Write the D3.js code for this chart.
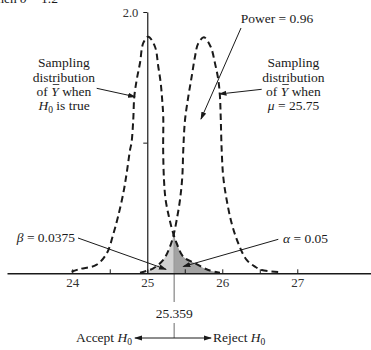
<!DOCTYPE html>
<html>
<head>
<meta charset="utf-8">
<title>Sampling distributions, power</title>
<script src="https://cdn.jsdelivr.net/npm/d3@7"></script>
<style>
  body { margin: 0; background: #fff; }
  svg text { font-family: "Liberation Serif", "DejaVu Serif", serif; font-size: 13.5px; fill: #1a1a1a; }
</style>
</head>
<body>
<svg id="chart" width="371" height="350"></svg>
<script>
// sampling distribution of Ybar when H0 is true (mu = 25)
const h0Curve = [
  [23.99, 0.012], [24.10, 0.033], [24.32, 0.064], [24.46, 0.153], [24.55, 0.306],
  [24.61, 0.433], [24.68, 0.612], [24.725, 0.765], [24.77, 0.944], [24.79, 1.0],
  [24.813, 1.173], [24.827, 1.352], [24.859, 1.48], [24.903, 1.61], [24.947, 1.763],
  [25.013, 1.811], [25.103, 1.734], [25.147, 1.581], [25.179, 1.457], [25.20, 1.319],
  [25.213, 1.199], [25.212, 0.944], [25.223, 0.714], [25.245, 0.561], [25.289, 0.433],
  [25.333, 0.331], [25.392, 0.230], [25.48, 0.127], [25.636, 0.077], [25.813, 0.025],
  [25.969, 0.005]
];
// sampling distribution of Ybar when mu = 25.75
const h1Curve = [
  [24.903, 0.005], [25.08, 0.038], [25.213, 0.102], [25.303, 0.204], [25.356, 0.306],
  [25.392, 0.408], [25.436, 0.561], [25.467, 0.739], [25.48, 0.944], [25.503, 1.173],
  [25.547, 1.352], [25.592, 1.505], [25.636, 1.658], [25.68, 1.76], [25.756, 1.806],
  [25.845, 1.734], [25.903, 1.607], [25.947, 1.48], [25.969, 1.352], [25.979, 1.199],
  [25.992, 0.944], [26.013, 0.739], [26.059, 0.561], [26.125, 0.383], [26.213, 0.23],
  [26.325, 0.102], [26.436, 0.051], [26.525, 0.025], [26.792, 0.008]
];
const critical = 25.359;
const majorTicks = [24, 25, 26, 27];
const minorTicks = [24.5, 25.5, 26.5];
const yTicks = [1, 2];

const svg = d3.select("#chart");

const x = d3.scaleLinear().domain([23.13, 28]).range([7, 372.3]);
const y = d3.scaleLinear().domain([0, 2]).range([273.3, 12]);

// arrow heads
const defs = svg.append("defs");
defs.append("marker")
    .attr("id", "head")
    .attr("viewBox", "0 -3 8 6")
    .attr("refX", 7).attr("refY", 0)
    .attr("markerWidth", 8).attr("markerHeight", 6)
    .attr("markerUnits", "userSpaceOnUse")
    .attr("orient", "auto-start-reverse")
  .append("path")
    .attr("d", "M0,-2.6L8,0L0,2.6Z")
    .attr("fill", "#1a1a1a");

defs.append("clipPath").attr("id", "betaClip")
  .append("rect")
    .attr("x", x(25)).attr("y", 0)
    .attr("width", x(critical) - x(25)).attr("height", 350);
defs.append("clipPath").attr("id", "alphaClip")
  .append("rect")
    .attr("x", x(critical)).attr("y", 0)
    .attr("width", x(27) - x(critical)).attr("height", 350);

const curve = d3.curveCatmullRom.alpha(0.5);
const line = d3.line().x(d => x(d[0])).y(d => y(d[1])).curve(curve);
const area = d3.area().x(d => x(d[0])).y0(y(0)).y1(d => y(d[1])).curve(curve);

// shaded tails
svg.append("path").datum(h1Curve)
    .attr("d", area).attr("fill", "#d2d2d2").attr("clip-path", "url(#betaClip)");
svg.append("path").datum(h0Curve)
    .attr("d", area).attr("fill", "#a3a3a3").attr("clip-path", "url(#alphaClip)");

// height of the beta tail at the critical value (linear in the read points)
function heightAt(pts, v) {
  for (let i = 1; i < pts.length; i++) {
    const a = pts[i - 1], b = pts[i];
    if ((a[0] - v) * (b[0] - v) <= 0) return a[1] + (b[1] - a[1]) * (v - a[0]) / (b[0] - a[0]);
  }
  return 0;
}
const tip = heightAt(h1Curve, critical);

// critical value line
svg.append("line")
    .attr("x1", x(critical)).attr("x2", x(critical))
    .attr("y1", y(tip)).attr("y2", 302)
    .attr("stroke", "#9c9c9c").attr("stroke-width", 1.5);
svg.append("line")
    .attr("x1", x(critical)).attr("x2", x(critical))
    .attr("y1", 323).attr("y2", 338)
    .attr("stroke", "#9c9c9c").attr("stroke-width", 1.5);

// x axis
const xAxis = svg.append("g")
    .attr("transform", `translate(0,${y(0)})`)
    .call(d3.axisBottom(x)
        .tickValues(majorTicks.concat(minorTicks))
        .tickFormat(d => majorTicks.includes(d) ? d : "")
        .tickSize(-4).tickSizeOuter(0).tickPadding(4));
xAxis.select(".domain").attr("stroke", "#1a1a1a").attr("stroke-width", 1.5);
xAxis.selectAll(".tick line").attr("stroke", "#1a1a1a");
xAxis.selectAll("text").style("font-size", "13px").style("fill", "#333");

// y axis
const yAxis = svg.append("g")
    .attr("transform", `translate(${x(25)},0)`)
    .call(d3.axisLeft(y)
        .tickValues(yTicks)
        .tickFormat(d => d === 2 ? "2.0" : "")
        .tickSize(4).tickSizeOuter(0).tickPadding(5));
yAxis.select(".domain").attr("stroke", "#1a1a1a").attr("stroke-width", 1.2);
yAxis.selectAll(".tick line").attr("stroke", "#1a1a1a");
yAxis.selectAll("text").style("font-size", "12.5px").style("fill", "#333");

// dashed distributions
[h0Curve, h1Curve].forEach(c => {
  svg.append("path").datum(c)
      .attr("d", line)
      .attr("fill", "none")
      .attr("stroke", "#1a1a1a")
      .attr("stroke-width", 2)
      .attr("stroke-dasharray", "6.5,4");
});

// pointer lines
const pointers = [
  [[96.7, 88.3], [135, 96.7]],
  [[261.7, 89.3], [219.5, 94]],
  [[241, 28], [201, 119]],
  [[78, 238], [166, 269.3]],
  [[278.3, 239.3], [183.3, 266.5]]
];
svg.selectAll(".pointer").data(pointers).join("line")
    .attr("class", "pointer")
    .attr("x1", d => d[0][0]).attr("y1", d => d[0][1])
    .attr("x2", d => d[1][0]).attr("y2", d => d[1][1])
    .attr("stroke", "#1a1a1a").attr("stroke-width", 1)
    .attr("marker-end", "url(#head)");

// accept / reject arrow
svg.append("line")
    .attr("x1", 135).attr("x2", 211).attr("y1", 338).attr("y2", 338)
    .attr("stroke", "#1a1a1a").attr("stroke-width", 1)
    .attr("marker-start", "url(#head)").attr("marker-end", "url(#head)");

// text helpers
function overline(textSel, idx) {
  const node = textSel.node();
  const box = node.getExtentOfChar(idx);
  const base = +textSel.attr("y");
  svg.append("line")
      .attr("x1", box.x + 1.5).attr("x2", box.x + box.width + 0.5)
      .attr("y1", base - 11).attr("y2", base - 11)
      .attr("stroke", "#1a1a1a").attr("stroke-width", 0.8);
}

function h0(textSel, after) {
  textSel.append("tspan").attr("font-style", "italic").text("H");
  textSel.append("tspan").style("font-size", "9.5px").attr("dy", 3).text("0");
  if (after) textSel.append("tspan").attr("dy", -3).text(after);
}

// top partial caption
const cap = svg.append("text").attr("x", 58).attr("y", 3).attr("text-anchor", "end");
cap.append("tspan").text("when ");
cap.append("tspan").attr("font-style", "italic").text("σ");
cap.append("tspan").text(" = 1.2");

// left block
const lx = 64, base = [67, 81.5, 95.5, 109.5];
svg.append("text").attr("x", lx).attr("y", base[0]).attr("text-anchor", "middle").text("Sampling");
svg.append("text").attr("x", lx).attr("y", base[1]).attr("text-anchor", "middle").text("distribution");
const lOf = svg.append("text").attr("x", lx).attr("y", base[2]).attr("text-anchor", "middle");
lOf.append("tspan").text("of ");
lOf.append("tspan").attr("font-style", "italic").text("Y");
lOf.append("tspan").text(" when");
overline(lOf, 3);
h0(svg.append("text").attr("x", lx).attr("y", base[3]).attr("text-anchor", "middle"), " is true");

// right block
const rx = 293.5;
svg.append("text").attr("x", rx).attr("y", base[0]).attr("text-anchor", "middle").text("Sampling");
svg.append("text").attr("x", rx).attr("y", base[1]).attr("text-anchor", "middle").text("distribution");
const rOf = svg.append("text").attr("x", rx).attr("y", base[2]).attr("text-anchor", "middle");
rOf.append("tspan").text("of ");
rOf.append("tspan").attr("font-style", "italic").text("Y");
rOf.append("tspan").text(" when");
overline(rOf, 3);
const mu = svg.append("text").attr("x", rx).attr("y", base[3]).attr("text-anchor", "middle");
mu.append("tspan").attr("font-style", "italic").text("μ");
mu.append("tspan").text(" = 25.75");

// power
svg.append("text").attr("x", 277).attr("y", 23.3).attr("text-anchor", "middle").text("Power = 0.96");

// beta and alpha
const bt = svg.append("text").attr("x", 75).attr("y", 241.7).attr("text-anchor", "end");
bt.append("tspan").attr("font-style", "italic").text("β");
bt.append("tspan").text(" = 0.0375");
const at = svg.append("text").attr("x", 283).attr("y", 242.5);
at.append("tspan").attr("font-style", "italic").text("α");
at.append("tspan").text(" = 0.05");

// critical value
svg.append("text").attr("x", x(critical)).attr("y", 318).attr("text-anchor", "middle").text(critical);

const acc = svg.append("text").attr("x", 132).attr("y", 341.5).attr("text-anchor", "end");
acc.append("tspan").text("Accept ");
h0(acc);
const rej = svg.append("text").attr("x", 213).attr("y", 341.5);
rej.append("tspan").text("Reject ");
h0(rej);
</script>
</body>
</html>
